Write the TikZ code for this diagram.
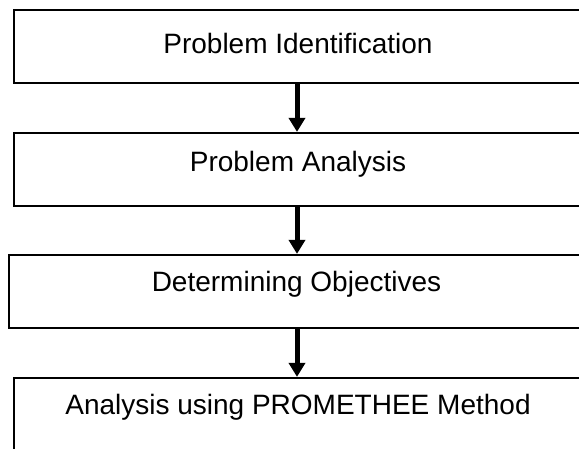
\documentclass[tikz,border=0pt]{standalone}
\usepackage{fontspec}
\setmainfont{Liberation Sans}
\usetikzlibrary{arrows.meta}
\begin{document}
\begin{tikzpicture}[x=1pt,y=1pt,
  stagebox/.style={draw=black, line width=2.2pt, fill=white, rectangle,
    inner sep=0pt, minimum height=73pt},
  stagetext/.style={anchor=base, inner sep=0pt,
    font=\fontsize{28}{34}\selectfont},
  flowarrow/.style={line width=5pt, -{Triangle[width=16pt,length=14pt]}}]
\useasboundingbox (0,0) rectangle (579,448);
\clip (0,0) rectangle (579,448);

% the four stages
\node[stagebox, minimum width=568pt] (b1) at (298,401.5) {};
\node[stagebox, minimum width=568pt] (b2) at (298,278.5) {};
\node[stagebox, minimum width=573pt] (b3) at (295.5,156.5) {};
\node[stagebox, minimum width=568pt, minimum height=74pt] (b4) at (298,33) {};

% stage captions (baselines)
\node[stagetext] (t1) at ([yshift=-45pt]b1.north) {Problem Identification};
\node[stagetext] (t2) at ([yshift=-40pt]b2.north) {Problem Analysis};
\node[stagetext] (t3) at ([yshift=-38pt,xshift=1pt]b3.north) {Determining Objectives};
\node[stagetext] (t4) at ([yshift=-38pt]b4.north) {Analysis using PROMETHEE Method};

% connectors
\draw[flowarrow] ([xshift=-1pt]b1.south) -- ([xshift=-1pt]b2.north);
\draw[flowarrow] ([xshift=-1pt]b2.south) -- ([xshift=-1pt]b3.north -| b2.north);
\draw[flowarrow] ([xshift=-1pt]b3.south -| b4.north) -- ([xshift=-1pt]b4.north);
\end{tikzpicture}
\end{document}
